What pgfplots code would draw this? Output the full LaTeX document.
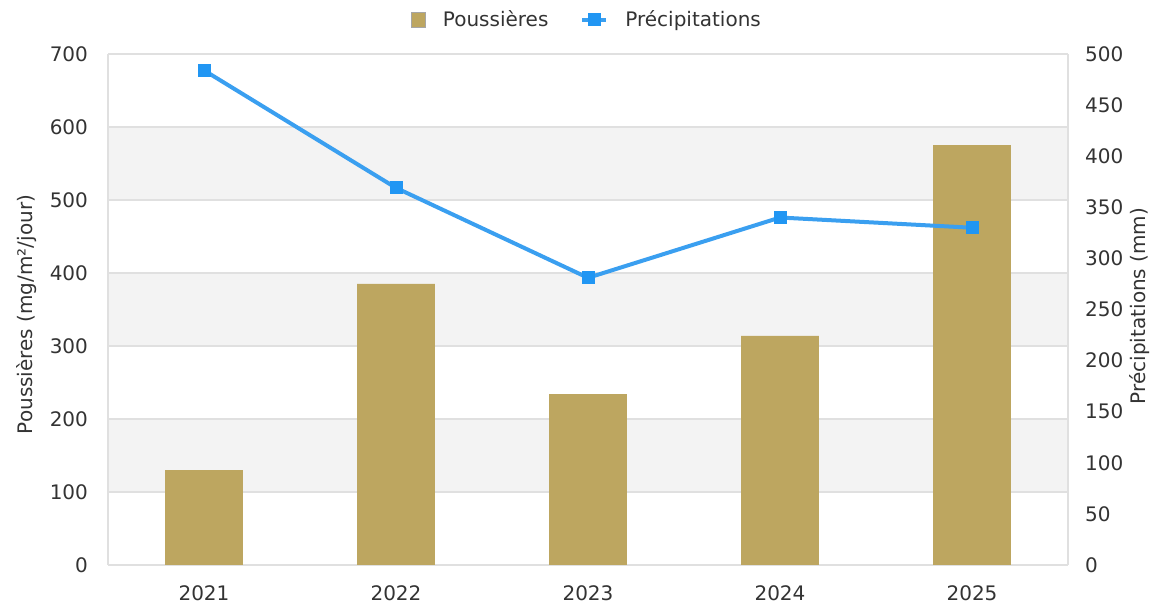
\documentclass[border=0pt]{standalone}
\usepackage{fontspec}
\setmainfont{DejaVu Sans}
\usepackage{pgfplots}
\pgfplotsset{compat=1.18}
\definecolor{gold}{HTML}{BDA660}
\definecolor{rain}{HTML}{2196F3}
\definecolor{rainline}{HTML}{3A9FF0}
\definecolor{gridc}{HTML}{E0E0E0}
\definecolor{band}{HTML}{F3F3F3}
\definecolor{txt}{HTML}{333333}
\pgfplotsset{
  base/.style={
    scale only axis, width=480pt, height=255.5pt,
    xmin=-0.5, xmax=4.5,
    /pgf/number format/assume math mode=true,
    tick label style={font=\fontsize{10}{12}\selectfont, text=txt},
    label style={font=\fontsize{10}{12}\selectfont, text=txt},
    major tick length=0pt,
  }
}
\begin{document}
\begin{tikzpicture}
\useasboundingbox (-54pt,-21.5pt) rectangle (525.5pt,282.5pt);
% background bands
\begin{axis}[base, hide axis, ymin=0, ymax=700]
  \fill[band] (axis cs:-0.5,100) rectangle (axis cs:4.5,200);
  \fill[band] (axis cs:-0.5,300) rectangle (axis cs:4.5,400);
  \fill[band] (axis cs:-0.5,500) rectangle (axis cs:4.5,600);
\end{axis}
% bars
\begin{axis}[base,
  ymin=0, ymax=700,
  ytick={0,100,...,700},
  xtick={0,1,2,3,4},
  xticklabels={2021,2022,2023,2024,2025},
  ymajorgrids, grid style={gridc, line width=0.6pt},
  axis line style={gridc, line width=0.6pt},
  axis y line*=left, axis x line*=bottom,
  yticklabel style={xshift=-6.5pt},
  xticklabel style={yshift=-7pt},
  ylabel={Poussières (mg/m²/jour)},
  ylabel style={at={(axis description cs:-0.0844,0.49)}, anchor=center},
]
  \addplot[ybar, bar width=0.405, fill=gold, draw=none] coordinates {
    (0,130) (1,385) (2,234) (3,314) (4,575)
  };
\end{axis}
% line
\begin{axis}[base,
  ymin=0, ymax=500,
  ytick={0,50,...,500},
  axis y line*=right,
  axis x line=none,
  axis line style={gridc, line width=0.6pt},
  yticklabel style={xshift=5pt},
  ylabel={Précipitations (mm)},
  ylabel style={at={(axis description cs:1.075,0.507)}, anchor=center},
  legend style={draw=none, fill=none, at={(0.5,1)}, anchor=center, yshift=17pt,
    font=\fontsize{10}{12}\selectfont, text=txt, legend columns=2,
    /tikz/every odd column/.append style={column sep=6.5pt},
    /tikz/every even column/.append style={column sep=14pt}},
]
  \draw[gridc, line width=0.6pt] (axis cs:-0.5,500) -- (axis cs:4.5,500);
  \addlegendimage{only marks, mark=square*, mark size=3.7pt, mark options={fill=gold, draw=gray!70, line width=0.5pt}}
  \addlegendentry{Poussières}
  \addplot[rainline, line width=2pt, mark=square*, mark size=3pt,
    mark options={fill=rain, draw=rain, line width=0pt},
    legend image code/.code={\draw[mark repeat=2,mark phase=2] plot coordinates {(0pt,0pt)(6pt,0pt)(12pt,0pt)};}]
    coordinates {(0,484) (1,369) (2,281) (3,340) (4,330)};
  \addlegendentry{Précipitations}
\end{axis}
\end{tikzpicture}
\end{document}
